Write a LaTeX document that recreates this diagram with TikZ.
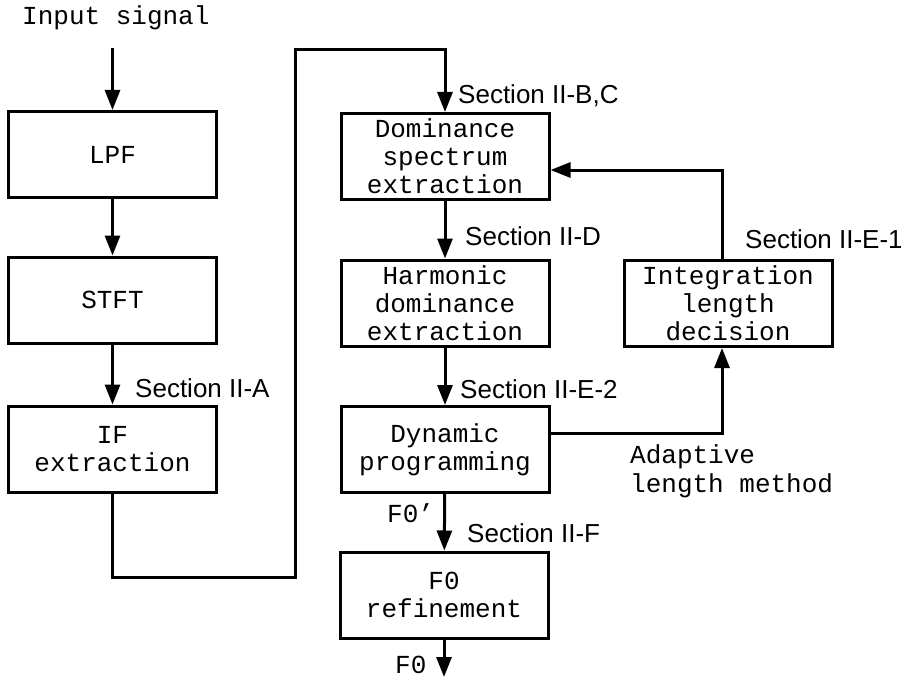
\documentclass[tikz,border=0pt]{standalone}
\usepackage{fontspec}
\setmainfont{Liberation Sans}
\setmonofont{Liberation Mono}
\usetikzlibrary{arrows.meta}
\tikzset{
	blk/.style={draw,line width=3pt,minimum width=208pt,minimum height=86pt,inner sep=0pt,align=center,font=\ttfamily\fontsize{26}{28}\selectfont},
	sec/.style={anchor=base west,inner sep=0pt,font=\fontsize{26}{28}\selectfont},
	lbl/.style={anchor=base west,inner sep=0pt,align=left,font=\ttfamily\fontsize{26}{29}\selectfont},
	flow/.style={line width=3pt,-{Triangle[width=15pt,length=20pt]}},
}
\begin{document}
\begin{tikzpicture}[x=1pt,y=-1pt]
		\useasboundingbox (0,0) rectangle (901,698);
		% left column
		\node[blk] (lpf) at (112.5,154.5) {LPF};
		\node[blk] (stft) at (112.5,300) {STFT};
		\node[blk] (if) at (112.5,449) {IF\\extraction};
		% middle column
		\node[blk] (dom) at (445,156.5) {Dominance\\spectrum\\extraction};
		\node[blk] (harm) at (445,303) {Harmonic\\dominance\\extraction};
		\node[blk] (dp) at (445,449.5) {Dynamic\\programming};
		\node[blk] (ref) at (444,595) {F0\\refinement};
		% right column
		\node[blk] (ild) at (728,303.5) {Integration\\length\\decision};
		% free ends and corners
		\coordinate (in) at (112.5,48);
		\coordinate (out) at (444,677);
		\coordinate (c2) at (295,577);
		\coordinate (c3) at (295,50);
		\coordinate (t1) at (722,433);
		\coordinate (t2) at (722,170);
		% connectors
		\draw[flow] (in) -- (lpf);
		\draw[flow] (lpf) -- (stft);
		\draw[flow] (stft) -- (if);
		\draw[flow] (if.south) |- (c2) -- (c3) -| (dom.north);
		\draw[flow] (dom) -- (harm);
		\draw[flow] (harm) -- (dp);
		\draw[flow] (dp) -- (ref);
		\draw[flow] (ref) -- (out);
		\draw[flow] (dp.east |- t1) -- (t1) -- (t1 |- ild.south);
		\draw[flow] (t2 |- ild.north) -- (t2) -- (t2 -| dom.east);
		% labels
		\node[lbl] (insig) at (22,25) {Input signal};
		\node[sec] (sA) at (135,397) {Section II-A};
		\node[sec] (sBC) at (458,103) {Section II-B,C};
		\node[sec] (sD) at (465,245) {Section II-D};
		\node[sec] (sE1) at (745,248) {Section II-E-1};
		\node[sec] (sE2) at (460,398) {Section II-E-2};
		\node[sec] (sF) at (467,542) {Section II-F};
		\node[lbl] (adapt) at (630,492) {Adaptive\\length method};
		\node[lbl] (fzp) at (387,522) {F0’};
		\node[lbl] (fz) at (395,673) {F0};
\end{tikzpicture}
\end{document}
